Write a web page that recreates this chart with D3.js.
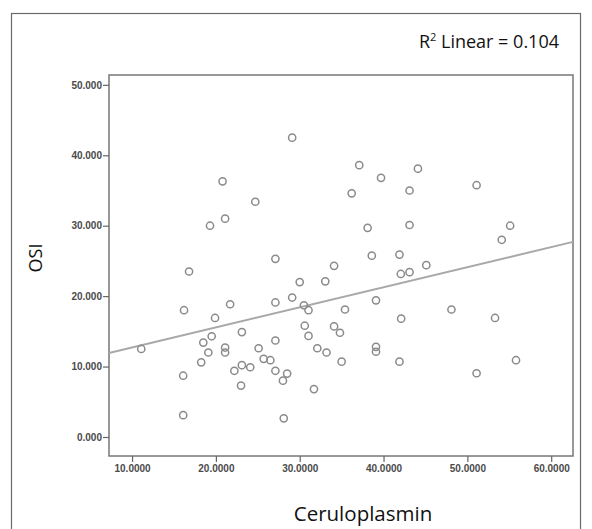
<!DOCTYPE html>
<html>
<head>
<meta charset="utf-8">
<script src="https://cdn.jsdelivr.net/npm/d3@7/dist/d3.min.js"></script>
<style>
  body { margin: 0; background: #fff; }
  svg { display: block; }
</style>
</head>
<body>
<div id="chart"></div>
<script>
// Ceruloplasmin vs OSI scatter with linear fit
const ceruloplasmin = [
  29.1, 20.8, 24.7, 21.1, 19.3, 27.1, 34.1, 16.8, 37.1, 39.7, 44.1, 36.2,
  43.1, 51.1, 38.1, 43.1, 55.1, 54.1, 38.6, 41.9, 45.1, 43.1, 42.06, 16.2,
  11.1, 19.9, 21.7, 19.5, 18.5, 19.1, 18.25, 21.1, 21.1, 23.1, 16.1, 16.1,
  22.2, 23.1, 24.1, 23.0, 25.1, 25.7, 26.5, 27.1, 27.1, 28.0, 28.5, 28.1,
  27.1, 29.1, 30.0, 33.05, 30.5, 31.05, 30.6, 31.05, 32.1, 33.2, 31.7, 34.1,
  34.8, 35.0, 35.4, 39.1, 42.1, 48.1, 53.3, 39.1, 39.1, 41.9, 51.1, 55.8
];
const osi = [
  42.5, 36.3, 33.4, 31.0, 30.0, 25.3, 24.3, 23.5, 38.6, 36.8, 38.1, 34.6,
  35.0, 35.75, 29.7, 30.1, 30.0, 28.0, 25.75, 25.9, 24.4, 23.4, 23.15, 18.0,
  12.5, 16.9, 18.85, 14.3, 13.4, 12.0, 10.6, 12.7, 12.0, 14.9, 8.7, 3.1,
  9.4, 10.2, 9.9, 7.3, 12.6, 11.1, 10.9, 13.7, 9.4, 8.0, 9.0, 2.65,
  19.1, 19.8, 22.0, 22.1, 18.7, 18.0, 15.8, 14.35, 12.6, 12.0, 6.8, 15.7,
  14.8, 10.7, 18.1, 19.4, 16.8, 18.1, 16.9, 12.8, 12.1, 10.7, 9.05, 10.9
];
const xTicks = [10, 20, 30, 40, 50, 60];
const yTicks = [0, 10, 20, 30, 40, 50];
const fitIntercept = 9.86;
const fitSlope = 0.285;
const rSquared = "0.104";

const width = 592, height = 529;
const margin = { top: 75, right: 19, bottom: 73, left: 109 };

const svg = d3.select("#chart").append("svg")
  .attr("width", width)
  .attr("height", height);

// outer frame
svg.append("rect")
  .attr("x", 11.5).attr("y", 13.5)
  .attr("width", 569).attr("height", 540)
  .attr("fill", "none")
  .attr("stroke", "#6a6a6a")
  .attr("stroke-width", 1.2);

const x = d3.scaleLinear()
  .domain([7.25, 62.6])
  .range([margin.left, width - margin.right]);
const y = d3.scaleLinear()
  .domain([-2.7, 51.4])
  .range([height - margin.bottom, margin.top]);

// plot box
svg.append("rect")
  .attr("x", margin.left).attr("y", margin.top)
  .attr("width", width - margin.left - margin.right)
  .attr("height", height - margin.top - margin.bottom)
  .attr("fill", "none")
  .attr("stroke", "#777")
  .attr("stroke-width", 1.5);

const xAxis = svg.append("g")
  .attr("transform", `translate(0,${height - margin.bottom})`)
  .call(d3.axisBottom(x).tickValues(xTicks).tickFormat(d3.format(".4f")).tickSize(6).tickSizeOuter(0).tickPadding(3));

const yAxis = svg.append("g")
  .attr("transform", `translate(${margin.left},0)`)
  .call(d3.axisLeft(y).tickValues(yTicks).tickFormat(d3.format(".3f")).tickSize(6).tickSizeOuter(0).tickPadding(1));

[xAxis, yAxis].forEach(g => {
  g.select(".domain").remove();
  g.selectAll(".tick line").attr("stroke", "#666").attr("stroke-width", 1.2);
  g.selectAll(".tick text")
    .attr("fill", "#4a4a4a")
    .style("font-family", "'Liberation Sans', Arial, sans-serif")
    .style("font-weight", "bold")
    .style("font-size", "10px");
});

// fit line
const xd = x.domain();
svg.append("line")
  .attr("x1", x(xd[0])).attr("y1", y(fitIntercept + fitSlope * xd[0]))
  .attr("x2", x(xd[1])).attr("y2", y(fitIntercept + fitSlope * xd[1]))
  .attr("stroke", "#a8a8a8")
  .attr("stroke-width", 2);

// points
svg.selectAll(".dot")
  .data(d3.zip(ceruloplasmin, osi))
  .join("circle")
  .attr("class", "dot")
  .attr("cx", d => x(d[0]))
  .attr("cy", d => y(d[1]))
  .attr("r", 3.6)
  .attr("fill", "none")
  .attr("stroke", "#8a8a8a")
  .attr("stroke-width", 1.5);

// labels
svg.append("text")
  .attr("x", 363)
  .attr("y", 521)
  .attr("text-anchor", "middle")
  .style("font-family", "'Open Sans', sans-serif")
  .style("font-size", "20.5px")
  .attr("fill", "#111")
  .text("Ceruloplasmin");

svg.append("text")
  .attr("transform", "translate(42,258) rotate(-90)")
  .attr("text-anchor", "middle")
  .style("font-family", "'Open Sans', sans-serif")
  .style("font-size", "18px")
  .attr("fill", "#111")
  .text("OSI");

const r2 = svg.append("text")
  .attr("x", 559)
  .attr("y", 48)
  .attr("text-anchor", "end")
  .style("font-family", "'Open Sans', sans-serif")
  .style("font-size", "18px")
  .attr("fill", "#111");
r2.append("tspan").text("R");
r2.append("tspan").attr("dy", -7).style("font-size", "11px").text("2");
r2.append("tspan").attr("dy", 7).text(" Linear = " + rSquared);
</script>
</body>
</html>
